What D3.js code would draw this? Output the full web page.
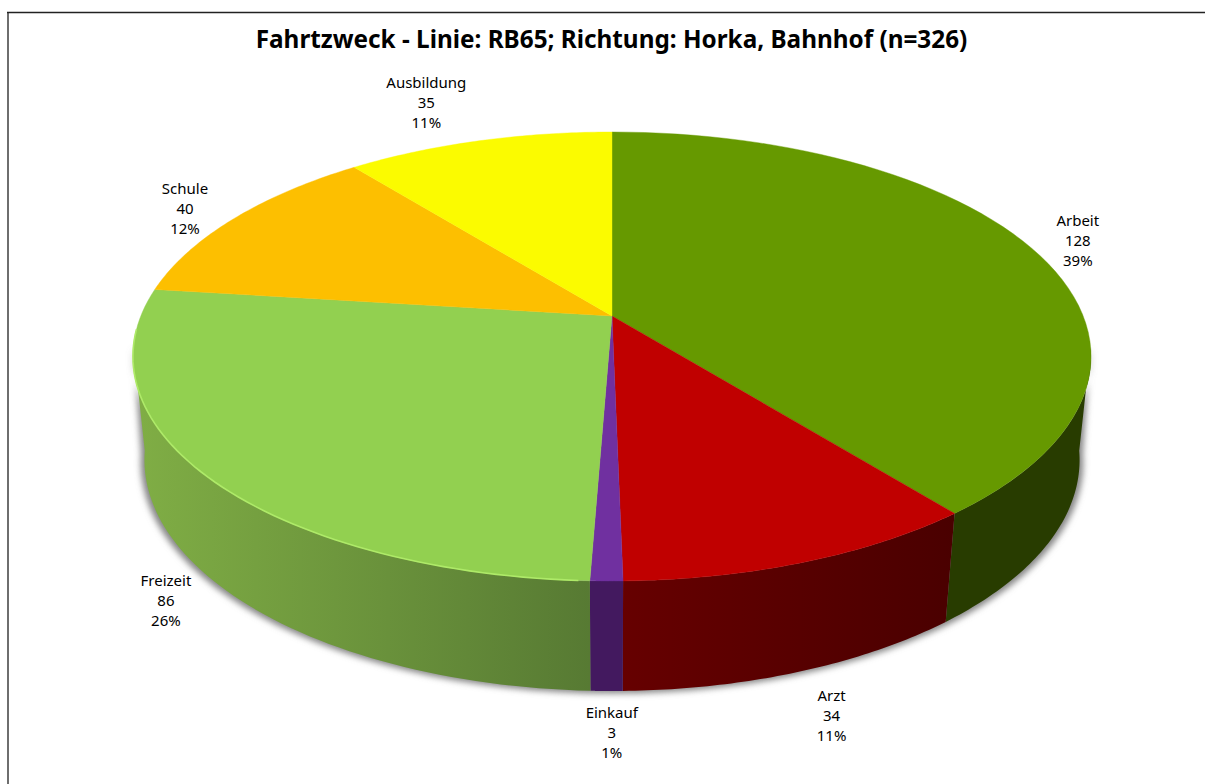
<!DOCTYPE html>
<html><head><meta charset="utf-8">
<script src="https://cdn.jsdelivr.net/npm/d3@7"></script>
<style>html,body{margin:0;padding:0;background:#fff}svg{display:block}text{font-family:"Noto Sans",sans-serif;fill:#000}</style>
</head><body><svg id="c" width="1205" height="784"></svg>
<script>
const titleText = "Fahrtzweck - Linie: RB65; Richtung: Horka, Bahnhof (n=326)";
const categories = ["Arbeit","Arzt","Einkauf","Freizeit","Schule","Ausbildung"];
const counts = [128,34,3,86,40,35];
const percents = ["39%","11%","1%","26%","12%","11%"];
const topColors = ["#669900","#C00000","#7030A0","#92D050","#FDBF00","#FBFB00"];
const wallLeft = ["#283C00","#660000","#43195F","#80AE45","#806000","#808000"];
const wallRight = ["#283C00","#4A0000","#43195F","#577A33","#806000","#808000"];
const labelNudgeX = [-1,4,6,5,-8,-39];
const labelNudgeY = [0,7,1,-4,1,-20];

const W=1205,H=784,cx=612,cy=316,A=471.2,B=217.2,k=0.1804,vpY=4700,labelR=1.12;
const svg=d3.select("#c");
const defs=svg.append("defs");
defs.append("filter").attr("id","sh").attr("x","-5%").attr("y","-5%").attr("width","110%").attr("height","110%")
  .append("feGaussianBlur").attr("stdDeviation",3);
defs.append("filter").attr("id","soft").append("feGaussianBlur").attr("stdDeviation",0.4);

function proj(t,r=1){const u=r*Math.sin(t),v=r*Math.cos(t),w=1+k*v;return [cx+A*u/w,cy-B*v/w,w];}
function lower(t,r=1){const [x,y,w]=proj(t,r);const d=110-40*(w-0.82);return [x-(x-cx)*d/(vpY-y),y+d];}
const top2=t=>proj(t).slice(0,2);
const line=d3.line().curve(d3.curveLinear);
const samples=(a,b)=>d3.range(0,61).map(i=>a+(b-a)*i/60);

const arcs=d3.pie().sort(null).value(d=>d)(counts);
const tMin=98*Math.PI/180,tMax=262*Math.PI/180;

// frame
svg.append("line").attr("x1",8).attr("x2",8).attr("y1",12).attr("y2",H).attr("stroke","#6e6e6e").attr("stroke-width",2);
svg.append("line").attr("x1",7).attr("x2",W).attr("y1",12.5).attr("y2",12.5).attr("stroke","#222").attr("stroke-width",1.6);

// shadow of the lower rim
const rim=samples(tMin,tMax);
svg.append("path").attr("filter","url(#sh)").attr("fill","#858585")
  .attr("d",line(rim.map(t=>{const [x,y]=lower(t);return [cx+(x-cx)*1.008,y+2.5];}).concat(rim.slice().reverse().map(top2)))+"Z");

// walls
arcs.forEach((a,i)=>{
  const s=Math.max(a.startAngle,tMin),e=Math.min(a.endAngle,tMax);
  if(e<=s) return;
  const top=samples(s,e).map(top2),bot=samples(s,e).map(t=>lower(t));
  const xs=top.concat(bot).map(p=>p[0]);
  const g=defs.append("linearGradient").attr("id","w"+i).attr("gradientUnits","userSpaceOnUse")
    .attr("x1",d3.min(xs)).attr("x2",d3.max(xs)).attr("y1",0).attr("y2",0);
  g.append("stop").attr("offset",0).attr("stop-color",wallLeft[i]);
  g.append("stop").attr("offset",1).attr("stop-color",wallRight[i]);
  svg.append("path").attr("d",line(top.concat(bot.reverse()))+"Z").attr("fill",`url(#w${i})`);
});

// top surface
arcs.forEach((a,i)=>{
  const pts=[[cx,cy]].concat(samples(a.startAngle,a.endAngle).map(top2));
  svg.append("path").attr("d",line(pts)+"Z").attr("fill",topColors[i]).attr("stroke",topColors[i]).attr("stroke-width",0.4);
});
// light rim on the Freizeit slice
const fz=arcs[3];
svg.append("path").attr("d",line(samples(fz.startAngle+0.02,Math.min(fz.endAngle,tMax+0.08)).map(top2)))
  .attr("fill","none").attr("stroke","#AEEA68").attr("stroke-width",1.6).attr("filter","url(#soft)");

// title
svg.append("text").attr("x",611.5).attr("y",48).attr("text-anchor","middle")
  .attr("font-size",24.3).attr("font-weight",700).text(titleText);

// labels
arcs.forEach((a,i)=>{
  const m=(a.startAngle+a.endAngle)/2;
  const front=Math.cos(m)<-0.2;
  const p=front?lower(m,labelR):proj(m,labelR);
  const x=p[0]+labelNudgeX[i],y=p[1]+labelNudgeY[i];
  const t=svg.append("text").attr("text-anchor","middle").attr("font-size",15);
  [categories[i],counts[i],percents[i]].forEach((s,j)=>{
    t.append("tspan").attr("x",x).attr("y",y-20+j*20+5).text(s);
  });
});
</script></body></html>
